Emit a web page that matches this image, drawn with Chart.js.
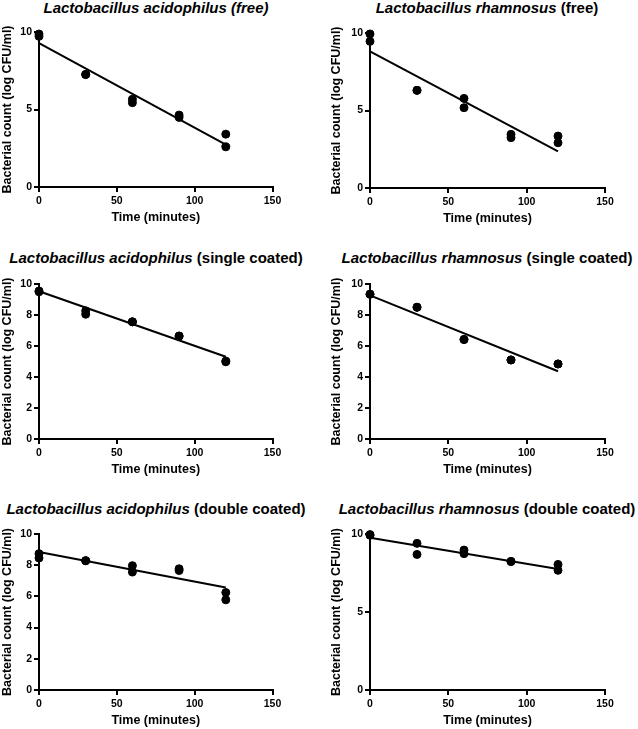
<!DOCTYPE html>
<html>
<head>
<meta charset="utf-8">
<script src="https://cdn.jsdelivr.net/npm/chart.js@4.4.0/dist/chart.umd.min.js"></script>
<style>
  body { margin: 0; background: #fff; width: 638px; height: 729px; position: relative; overflow: hidden;
         font-family: "Liberation Sans", Arial, sans-serif; }
  .title { position: absolute; width: 340px; text-align: center; font-weight: bold; font-size: 15px;
           line-height: 18px; color: #000; white-space: nowrap; }
  canvas { position: absolute; }
</style>
</head>
<body>
<div class="title" style="left:-14px;top:-1px"><i>Lactobacillus acidophilus (free)</i></div>
<div class="title" style="left:317px;top:-1px"><i>Lactobacillus rhamnosus</i> (free)</div>
<div class="title" style="left:-14px;top:249px"><i>Lactobacillus acidophilus</i> (single coated)</div>
<div class="title" style="left:317px;top:249px"><i>Lactobacillus rhamnosus</i> (single coated)</div>
<div class="title" style="left:-14px;top:500px"><i>Lactobacillus acidophilus</i> (double coated)</div>
<div class="title" style="left:317px;top:500px"><i>Lactobacillus rhamnosus</i> (double coated)</div>

<canvas id="c1" width="319" height="203" style="left:0;top:22px"></canvas>
<canvas id="c2" width="319" height="203" style="left:319px;top:23px"></canvas>
<canvas id="c3" width="319" height="203" style="left:0;top:274px"></canvas>
<canvas id="c4" width="319" height="203" style="left:319px;top:274px"></canvas>
<canvas id="c5" width="319" height="204" style="left:0;top:524px"></canvas>
<canvas id="c6" width="319" height="204" style="left:319px;top:524px"></canvas>

<script>
// sampling times (duplicates = replicate measurements)
const times = [0, 0, 30, 30, 60, 60, 90, 90, 120, 120];
const fitTimes = [0, 120];

// bacterial count, log CFU/ml
const acidoFree   = [9.87, 9.72, 7.26, 7.26, 5.66, 5.44, 4.64, 4.49, 3.41, 2.59];
const rhamFree    = [9.94, 9.46, 6.30, 6.30, 5.78, 5.18, 3.46, 3.25, 3.35, 2.92];
const acidoSingle = [9.55, 9.50, 8.27, 8.05, 7.56, 7.56, 6.64, 6.64, 5.03, 4.98];
const rhamSingle  = [9.34, 9.34, 8.50, 8.50, 6.42, 6.42, 5.10, 5.10, 4.84, 4.84];
const acidoDouble = [8.74, 8.46, 8.29, 8.29, 7.97, 7.56, 7.77, 7.66, 6.25, 5.78];
const rhamDouble  = [9.96, 9.92, 9.40, 8.69, 8.97, 8.74, 8.24, 8.24, 8.05, 7.67];

// fitted regression lines (value at 0 and 120 min)
const acidoFreeFit   = [9.29, 2.74];
const rhamFreeFit    = [8.82, 2.37];
const acidoSingleFit = [9.53, 5.31];
const rhamSingleFit  = [9.27, 4.37];
const acidoDoubleFit = [8.84, 6.57];
const rhamDoubleFit  = [9.76, 7.75];

const tickFont = { family: '"Liberation Sans", Arial, sans-serif', size: 10.5, weight: 'bold' };
const titleFont = { family: '"Liberation Sans", Arial, sans-serif', size: 12.5, weight: 'bold' };

function panel(id, values, fit, step, col) {
  const rightCol = col === 1;
  new Chart(document.getElementById(id), {
    type: 'scatter',
    data: {
      datasets: [
        {
          data: times.map((t, i) => ({ x: t, y: values[i] })),
          backgroundColor: '#000', borderColor: '#000',
          pointRadius: 4, pointHoverRadius: 4, clip: false
        },
        {
          data: fitTimes.map((t, i) => ({ x: t, y: fit[i] })),
          showLine: true, borderColor: '#000', borderWidth: 2,
          pointRadius: 0, clip: false
        }
      ]
    },
    options: {
      responsive: false,
      animation: false,
      layout: { padding: { top: 10, right: rightCol ? 33 : 46.5, left: 0, bottom: 0 } },
      plugins: { legend: { display: false }, tooltip: { enabled: false } },
      scales: {
        x: {
          type: 'linear', min: 0, max: 150,
          ticks: { stepSize: 50, color: '#000', font: tickFont, padding: 3 },
          grid: { drawOnChartArea: false, color: '#000', lineWidth: 2, tickLength: 5 },
          border: { color: '#000', width: 2 },
          title: { display: true, text: 'Time (minutes)', color: '#000', font: titleFont, padding: { top: 0, bottom: 0 } },
          afterFit(s) { s.height = 38; }
        },
        y: {
          min: 0, max: 10,
          ticks: { stepSize: step, color: '#000', font: tickFont, padding: 2 },
          grid: { drawOnChartArea: false, color: '#000', lineWidth: 2, tickLength: 5 },
          border: { color: '#000', width: 2 },
          title: { display: true, text: 'Bacterial count (log CFU/ml)', color: '#000', font: titleFont,
                   padding: { top: rightCol ? 10 : 0, bottom: 0 } },
          afterFit(s) { s.width = rightCol ? 51 : 39; }
        }
      }
    }
  });
}

panel('c1', acidoFree, acidoFreeFit, 5, 0);
panel('c2', rhamFree, rhamFreeFit, 5, 1);
panel('c3', acidoSingle, acidoSingleFit, 2, 0);
panel('c4', rhamSingle, rhamSingleFit, 2, 1);
panel('c5', acidoDouble, acidoDoubleFit, 2, 0);
panel('c6', rhamDouble, rhamDoubleFit, 5, 1);
</script>
</body>
</html>
